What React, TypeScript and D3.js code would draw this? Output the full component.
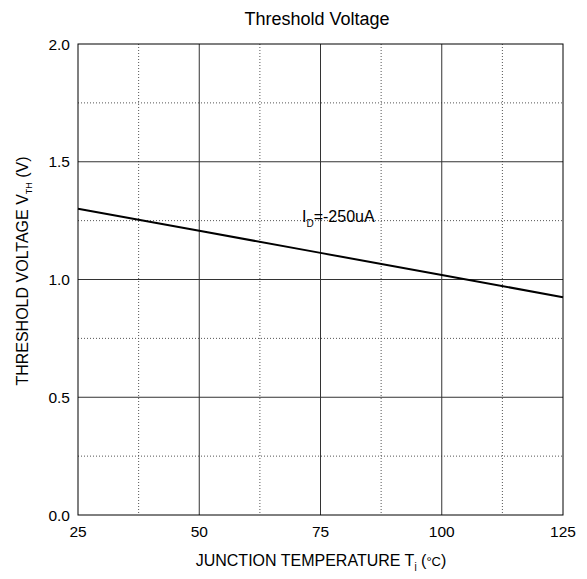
import React, { useEffect, useRef } from "react";
import * as d3 from "d3";

const temps = [25, 50, 75, 100, 125];
const vth = [1.3, 1.207, 1.113, 1.019, 0.925];
const xTicks = [25, 50, 75, 100, 125];
const yTicks = [0, 0.5, 1.0, 1.5, 2.0];
const xMinor = [37.5, 62.5, 87.5, 112.5];
const yMinor = [0.25, 0.75, 1.25, 1.75];

function App() {
  const svgRef = useRef(null);
  useEffect(() => {
    const svg = d3.select(svgRef.current);
    svg.selectAll("*").remove();
    const left = 78;
    const right = 563;
    const top = 44;
    const bottom = 515;
    const font = "Liberation Sans, Arial, sans-serif";

    const x = d3.scaleLinear().domain([25, 125]).range([left, right]);
    const y = d3.scaleLinear().domain([0, 2]).range([bottom, top]);

    const g = svg.append("g");

    // dotted minor grid
    g.selectAll(".vminor")
      .data(xMinor)
      .enter()
      .append("line")
      .attr("x1", (d) => x(d))
      .attr("x2", (d) => x(d))
      .attr("y1", top)
      .attr("y2", bottom)
      .attr("stroke", "#555")
      .attr("stroke-dasharray", "1,2");
    g.selectAll(".hminor")
      .data(yMinor)
      .enter()
      .append("line")
      .attr("x1", left)
      .attr("x2", right)
      .attr("y1", (d) => y(d))
      .attr("y2", (d) => y(d))
      .attr("stroke", "#555")
      .attr("stroke-dasharray", "1,2");

    // solid major grid
    g.selectAll(".vmajor")
      .data(xTicks.slice(1, -1))
      .enter()
      .append("line")
      .attr("x1", (d) => x(d))
      .attr("x2", (d) => x(d))
      .attr("y1", top)
      .attr("y2", bottom)
      .attr("stroke", "#333");
    g.selectAll(".hmajor")
      .data(yTicks.slice(1, -1))
      .enter()
      .append("line")
      .attr("x1", left)
      .attr("x2", right)
      .attr("y1", (d) => y(d))
      .attr("y2", (d) => y(d))
      .attr("stroke", "#333");

    g.append("rect")
      .attr("x", left)
      .attr("y", top)
      .attr("width", right - left)
      .attr("height", bottom - top)
      .attr("fill", "none")
      .attr("stroke", "#000");

    const pts = temps.map((t, i) => [t, vth[i]]);
    g.append("path")
      .attr("d", d3.line().x((d) => x(d[0])).y((d) => y(d[1]))(pts))
      .attr("fill", "none")
      .attr("stroke", "#000")
      .attr("stroke-width", 2);

    // tick labels
    g.selectAll(".xt")
      .data(xTicks)
      .enter()
      .append("text")
      .attr("x", (d) => x(d))
      .attr("y", bottom + 22)
      .attr("text-anchor", "middle")
      .attr("font-family", font)
      .attr("font-size", 15.5)
      .text((d) => d);
    g.selectAll(".yt")
      .data(yTicks)
      .enter()
      .append("text")
      .attr("x", left - 8)
      .attr("y", (d) => y(d) + 5.5)
      .attr("text-anchor", "end")
      .attr("font-family", font)
      .attr("font-size", 15.5)
      .text((d) => d.toFixed(1));

    // title
    svg.append("text")
      .attr("x", 317)
      .attr("y", 25)
      .attr("text-anchor", "middle")
      .attr("font-family", font)
      .attr("font-size", 18)
      .text("Threshold Voltage");

    // x label
    const xl = svg.append("text")
      .attr("x", 321)
      .attr("y", 566)
      .attr("text-anchor", "middle")
      .attr("font-family", font)
      .attr("font-size", 16);
    xl.append("tspan").text("JUNCTION TEMPERATURE T");
    xl.append("tspan").attr("font-size", 10).attr("dy", 4).text("j");
    xl.append("tspan").attr("dy", -4).text(" (");
    xl.append("tspan").attr("font-size", 13).text("°C");
    xl.append("tspan").text(")");

    // y label
    const yl = svg.append("text")
      .attr("transform", "translate(28,271) rotate(-90)")
      .attr("text-anchor", "middle")
      .attr("font-family", font)
      .attr("font-size", 16);
    yl.append("tspan").text("THRESHOLD VOLTAGE V");
    yl.append("tspan").attr("font-size", 9).attr("dy", 4).text("TH");
    yl.append("tspan").attr("dy", -4).text(" (V)");

    // annotation
    const an = svg.append("text")
      .attr("x", 302)
      .attr("y", 222)
      .attr("font-family", font)
      .attr("font-size", 16);
    an.append("tspan").text("I");
    an.append("tspan").attr("font-size", 10).attr("dy", 5).text("D");
    an.append("tspan").attr("dy", -5).text("=-250uA");
  }, []);

  return <svg ref={svgRef} width={587} height={579} style={{ display: "block", margin: "-8px" }} />;
}

export default App;
